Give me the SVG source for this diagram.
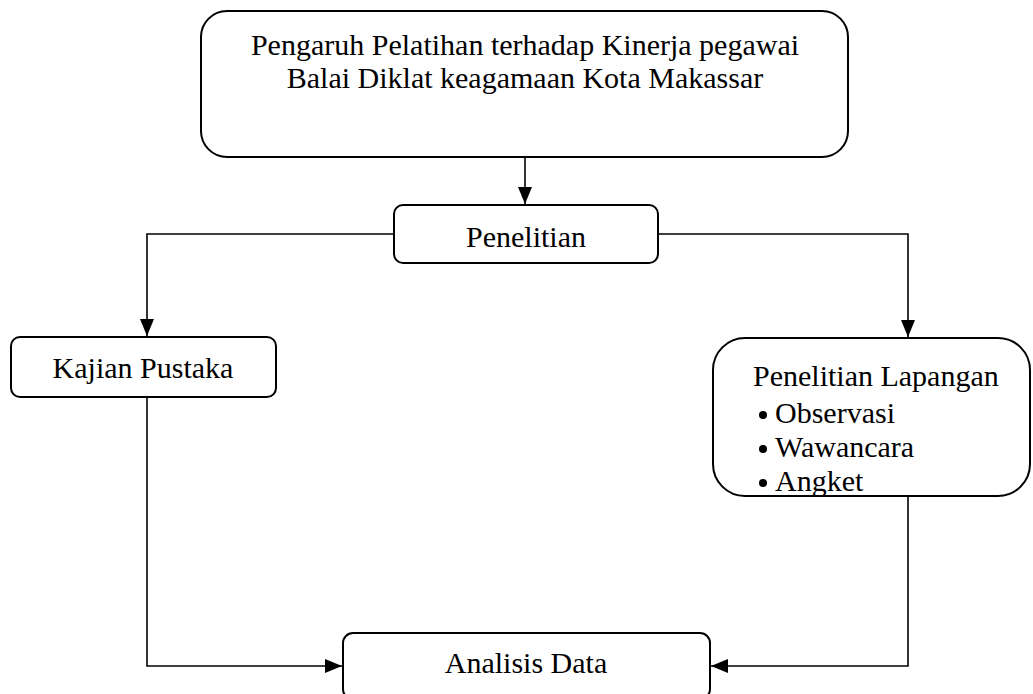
<svg xmlns="http://www.w3.org/2000/svg" width="1033" height="694" viewBox="0 0 1033 694">
<style>
.box{fill:#fff;stroke:#000;stroke-width:2}
.t{font-family:"Liberation Serif","Times New Roman",serif;font-size:30px;fill:#000}
.c{text-anchor:middle}
.ln{fill:none;stroke:#000;stroke-width:1.6}
</style>
<defs>
<marker id="ah" viewBox="0 0 17 14" refX="17" refY="7" markerWidth="17" markerHeight="14" markerUnits="userSpaceOnUse" orient="auto">
<path d="M0,0 L17,7 L0,14 Z" fill="#000"/>
</marker>
</defs>
<g id="connectors">
<path class="ln" d="M525,158 V204" marker-end="url(#ah)"/>
<path class="ln" d="M394,234 H147 V336" marker-end="url(#ah)"/>
<path class="ln" d="M658,234 H908 V337" marker-end="url(#ah)"/>
<path class="ln" d="M147,397 V666 H342" marker-end="url(#ah)"/>
<path class="ln" d="M908,496 V666 H711" marker-end="url(#ah)"/>
</g>
<g id="node-top">
<rect class="box" x="201" y="11" width="647" height="146" rx="26"/>
<text class="t c" x="525" y="55">Pengaruh Pelatihan terhadap Kinerja pegawai</text>
<text class="t c" x="525" y="88">Balai Diklat keagamaan Kota Makassar</text>
</g>
<g id="node-penelitian">
<rect class="box" x="394" y="205" width="264" height="58" rx="9"/>
<text class="t c" x="526" y="247">Penelitian</text>
</g>
<g id="node-kajian">
<rect class="box" x="11" y="337" width="265" height="60" rx="9"/>
<text class="t c" x="143" y="378">Kajian Pustaka</text>
</g>
<g id="node-lapangan">
<rect class="box" x="713" y="338" width="317" height="158" rx="32"/>
<text class="t" x="753" y="386">Penelitian Lapangan</text>
<circle cx="763" cy="415" r="4"/>
<text class="t" x="775" y="423">Observasi</text>
<circle cx="763" cy="449" r="4"/>
<text class="t" x="775" y="457">Wawancara</text>
<circle cx="763" cy="483" r="4"/>
<text class="t" x="775" y="491">Angket</text>
</g>
<g id="node-analisis">
<rect class="box" x="343" y="633" width="367" height="66" rx="10"/>
<text class="t c" x="526" y="673">Analisis Data</text>
</g>
</svg>
